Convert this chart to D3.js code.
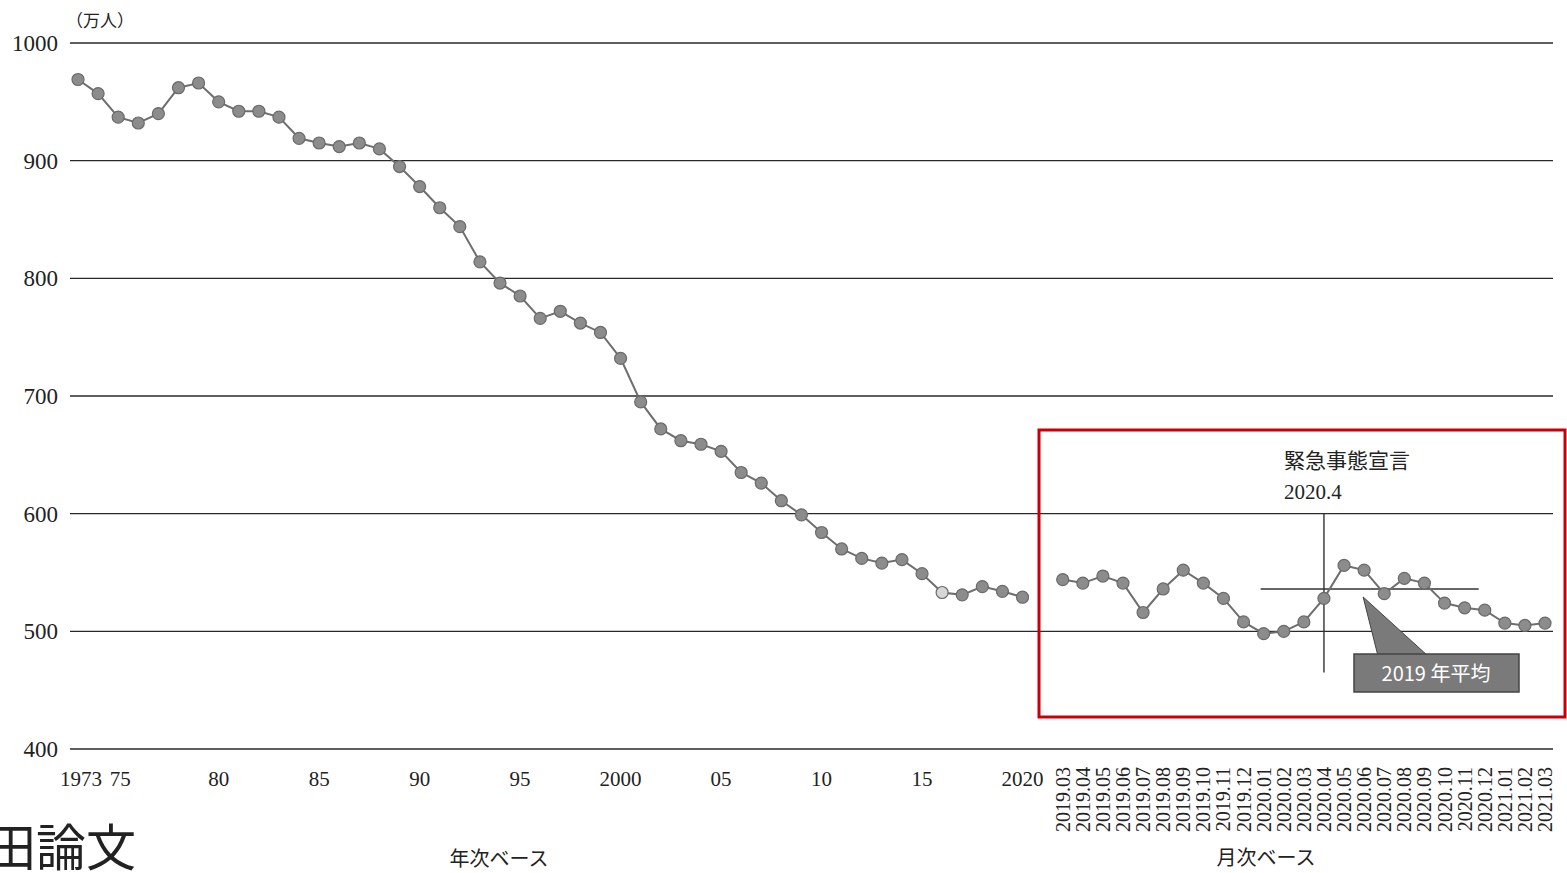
<!DOCTYPE html>
<html>
<head>
<meta charset="utf-8">
<script src="https://cdn.jsdelivr.net/npm/d3@7"></script>
<style>
  body { margin: 0; background: #fff; }
  svg { display: block; }
  .num { font-family: "Liberation Serif", "DejaVu Serif", serif; fill: #222; }
  .jp { font-family: "Noto Sans CJK JP", sans-serif; fill: #222; }
</style>
</head>
<body>
<script>
// annual series 1973 - 2020 (万人)
let years = d3.range(1973, 2021)
let yearValues = [969, 957, 937, 932, 940, 962, 966, 950, 942, 942,
  937, 919, 915, 912, 915, 910, 895, 878, 860, 844,
  814, 796, 785, 766, 772, 762, 754, 732, 695, 672,
  662, 659, 653, 635, 626, 611, 599, 584, 570, 562,
  558, 561, 549, 533, 531, 538, 534, 529]

// monthly series 2019.03 - 2021.03
let months = ['2019.03', '2019.04', '2019.05', '2019.06', '2019.07', '2019.08', '2019.09',
  '2019.10', '2019.11', '2019.12', '2020.01', '2020.02', '2020.03', '2020.04', '2020.05',
  '2020.06', '2020.07', '2020.08', '2020.09', '2020.10', '2020.11', '2020.12',
  '2021.01', '2021.02', '2021.03']
let monthValues = [544, 541, 547, 541, 516, 536, 552, 541, 528, 508,
  498, 500, 508, 528, 556, 552, 532, 545, 541, 524, 520, 518, 507, 505, 507]

let avg2019 = 536
let yTicks = [400, 500, 600, 700, 800, 900, 1000]
let yearTicks = [1973, 1975, 1980, 1985, 1990, 1995, 2000, 2005, 2010, 2015, 2020]
let yearTickLabels = ['1973', '75', '80', '85', '90', '95', '2000', '05', '10', '15', '2020']

let m = { width: 1567, height: 873, left: 70, right: 1553, top: 43, bottom: 749 }

let svg = d3.select('body').append('svg')
  .attr('width', m.width)
  .attr('height', m.height)

// one x scale for years, a gap slot, and months
let keys = years.map(String).concat(['gap']).concat(months)
let x = d3.scalePoint().domain(keys).range([78, 1545])
let step = x.step()

let y = d3.scaleLinear().domain([400, 1000]).range([m.bottom, m.top])

// gridlines
svg.append('g').selectAll('line')
  .data(yTicks).enter().append('line')
    .attr('x1', m.left).attr('x2', m.right)
    .attr('y1', d => y(d)).attr('y2', d => y(d))
    .attr('stroke', '#2a2a2a').attr('stroke-width', 1.4)

// y labels
svg.append('g').selectAll('text')
  .data(yTicks).enter().append('text')
    .attr('class', 'num')
    .attr('x', 58).attr('y', d => y(d) + 8)
    .attr('text-anchor', 'end')
    .attr('font-size', 23)
    .text(d => d)

svg.append('text').attr('class', 'jp')
  .attr('x', 66).attr('y', 27).attr('font-size', 17)
  .text('（万人）')

// year labels
svg.append('g').selectAll('text')
  .data(yearTicks).enter().append('text')
    .attr('class', 'num')
    .attr('x', (d, i) => x(String(d)) + (i == 0 ? 3 : (i == 1 ? 2 : 0)))
    .attr('y', 786)
    .attr('text-anchor', 'middle')
    .attr('font-size', 21)
    .text((d, i) => yearTickLabels[i])

// month labels (rotated)
svg.append('g').selectAll('text')
  .data(months).enter().append('text')
    .attr('class', 'num')
    .attr('transform', d => 'translate(' + x(d) + ',767) rotate(-90)')
    .attr('text-anchor', 'end')
    .attr('dy', '0.35em')
    .attr('font-size', 20)
    .text(d => d)

svg.append('text').attr('class', 'jp')
  .attr('x', 499).attr('y', 866).attr('text-anchor', 'middle').attr('font-size', 20)
  .text('年次ベース')
svg.append('text').attr('class', 'jp')
  .attr('x', 1266).attr('y', 865).attr('text-anchor', 'middle').attr('font-size', 20)
  .text('月次ベース')

// cut-off caption at bottom left
svg.append('text').attr('class', 'jp')
  .attr('x', -14).attr('y', 866).attr('font-size', 50).attr('fill', '#000')
  .text('田論文')

// lines
let line = d3.line()
  .x(d => x(d.k))
  .y(d => y(d.v))

let annual = years.map((d, i) => ({ k: String(d), v: yearValues[i] }))
let monthly = months.map((d, i) => ({ k: d, v: monthValues[i] }))

// annotations in the monthly part
let xApr = x('2020.04')
svg.append('line')
  .attr('x1', xApr).attr('x2', xApr)
  .attr('y1', y(600)).attr('y2', y(465))
  .attr('stroke', '#333').attr('stroke-width', 1.4)

svg.append('line')
  .attr('x1', x('2020.01') - step * 0.15).attr('x2', x('2020.11') + step * 0.7)
  .attr('y1', y(avg2019)).attr('y2', y(avg2019))
  .attr('stroke', '#333').attr('stroke-width', 1.6)

;[annual, monthly].forEach(function(series) {
  svg.append('path')
    .datum(series)
    .attr('d', line)
    .attr('fill', 'none')
    .attr('stroke', '#6e6e6e')
    .attr('stroke-width', 2)

  svg.append('g').selectAll('circle')
    .data(series).enter().append('circle')
      .attr('cx', d => x(d.k))
      .attr('cy', d => y(d.v))
      .attr('r', 6)
      .attr('fill', d => d.k == '2016' ? '#d6d6d6' : '#8c8c8c')
      .attr('stroke', '#6a6a6a')
      .attr('stroke-width', 1.2)
})

svg.append('text').attr('class', 'jp')
  .attr('x', 1284).attr('y', 468).attr('font-size', 21)
  .text('緊急事態宣言')
svg.append('text').attr('class', 'num')
  .attr('x', 1284).attr('y', 499).attr('font-size', 21)
  .text('2020.4')

// callout for 2019 average
let tipX = x('2020.06') - 1
let tipY = y(avg2019) + 8
svg.append('polygon')
  .attr('points', [[tipX, tipY], [1378, 656], [1428, 656]].map(p => p.join(',')).join(' '))
  .attr('fill', '#7a7a7a').attr('stroke', '#444').attr('stroke-width', 1)
svg.append('rect')
  .attr('x', 1354).attr('y', 654).attr('width', 165).attr('height', 38)
  .attr('fill', '#7a7a7a').attr('stroke', '#444').attr('stroke-width', 1.5)
svg.append('text').attr('class', 'jp')
  .attr('x', 1436).attr('y', 681).attr('text-anchor', 'middle')
  .attr('font-size', 20).style('fill', '#fff')
  .text('2019 年平均')

// red frame around monthly part
svg.append('rect')
  .attr('x', 1039).attr('y', 430).attr('width', 526).attr('height', 287)
  .attr('fill', 'none').attr('stroke', '#c8000a').attr('stroke-width', 3)
</script>
</body>
</html>
